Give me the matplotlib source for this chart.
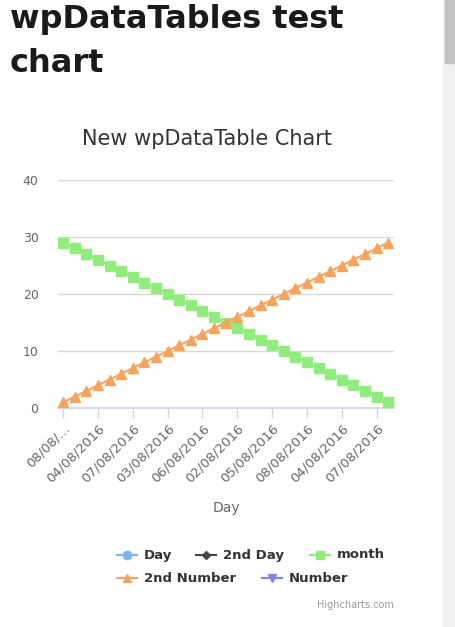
import matplotlib.pyplot as plt
from matplotlib.lines import Line2D
from matplotlib.patches import Rectangle

# Chart data
days = ['08/08/2016', '02/08/2016', '03/08/2016', '04/08/2016', '05/08/2016',
        '06/08/2016', '07/08/2016', '08/08/2016', '02/08/2016', '03/08/2016',
        '04/08/2016', '05/08/2016', '06/08/2016', '07/08/2016', '08/08/2016',
        '02/08/2016', '03/08/2016', '04/08/2016', '05/08/2016', '06/08/2016',
        '07/08/2016', '08/08/2016', '02/08/2016', '03/08/2016', '04/08/2016',
        '05/08/2016', '06/08/2016', '07/08/2016', '08/08/2016']
month = [29, 28, 27, 26, 25, 24, 23, 22, 21, 20, 19, 18, 17, 16, 15,
         14, 13, 12, 11, 10, 9, 8, 7, 6, 5, 4, 3, 2, 1]
second_number = [1, 2, 3, 4, 5, 6, 7, 8, 9, 10, 11, 12, 13, 14, 15,
                 16, 17, 18, 19, 20, 21, 22, 23, 24, 25, 26, 27, 28, 29]
y_ticks = [0, 10, 20, 30, 40]

legend_names = ['Day', '2nd Day', 'month', '2nd Number', 'Number']
legend_colors = ['#7cb5ec', '#434348', '#90ed7d', '#f7a35c', '#8085e9']
legend_markers = ['o', 'D', 's', '^', 'v']

W, H = 455, 627
fig = plt.figure(figsize=(W / 100, H / 100), dpi=100)


def fx(px):
    return px / W


def fy(py):
    return 1 - py / H


# page heading
fig.text(fx(10), fy(28), 'wpDataTables test', fontsize=23, fontweight='bold',
         color='#1a1a1a', va='baseline', ha='left')
fig.text(fx(10), fy(72), 'chart', fontsize=23, fontweight='bold',
         color='#1a1a1a', va='baseline', ha='left')

# scrollbar
fig.patches.append(Rectangle((fx(443), 0), fx(12), 1, transform=fig.transFigure,
                             color='#f0f0f0', zorder=0))
fig.patches.append(Rectangle((fx(445), fy(63)), fx(10), 63 / H,
                             transform=fig.transFigure, color='#c1c1c1', zorder=1))

# chart title
fig.text(fx(207), fy(145), 'New wpDataTable Chart', fontsize=15, color='#333333',
         ha='center', va='baseline')

ax = fig.add_axes([fx(58), fy(408), fx(394) - fx(58), fy(180) - fy(408)])
x = list(range(len(days)))
ax.plot(x, month, color='#90ed7d', lw=1.5, marker='s', ms=6.5, zorder=3)
ax.plot(x, second_number, color='#f7a35c', lw=1.5, marker='^', ms=7, zorder=3)

ax.set_xlim(-0.45, 28.5)
ax.set_ylim(0, 40)
ax.set_yticks(y_ticks)
ax.yaxis.grid(True, color='#d8d8d8', lw=1)
ax.set_axisbelow(True)
ax.tick_params(axis='y', length=0, labelsize=9, labelcolor='#666666', pad=14)
for s in ['top', 'right', 'left']:
    ax.spines[s].set_visible(False)
ax.spines['bottom'].set_color('#ccd6eb')
ax.spines['bottom'].set_linewidth(1.2)

tick_pos = x[::3]
tick_labels = [days[i] for i in tick_pos]
tick_labels[0] = '08/08/…'
ax.set_xticks(tick_pos)
ax.set_xticklabels(tick_labels, rotation=45, ha='right', va='top',
                   rotation_mode='anchor')
ax.tick_params(axis='x', length=7, color='#ccd6eb', width=1, labelsize=9.5,
               labelcolor='#666666', pad=3)
ax.set_xlabel('Day', fontsize=10, color='#666666')
ax.xaxis.set_label_coords(0.5, -0.41)

# legend
rows = [555, 555, 555, 578, 578]
sym_x = [117, 196, 310, 117, 262]
for name, col, mk, ry, sx in zip(legend_names, legend_colors, legend_markers, rows, sym_x):
    fig.add_artist(Line2D([fx(sx), fx(sx + 20)], [fy(ry), fy(ry)],
                          transform=fig.transFigure, color=col, lw=1.5))
    fig.add_artist(Line2D([fx(sx + 10)], [fy(ry)], transform=fig.transFigure,
                          color=col, marker=mk, ms=6 if mk != 'D' else 4.5, lw=0))
    fig.text(fx(sx + 27), fy(ry), name, fontsize=9.5, fontweight='bold',
             color='#333333', va='center', ha='left')

fig.text(fx(394), fy(605), 'Highcharts.com', fontsize=7, color='#999999',
         ha='right', va='center')

fig.savefig('out.png', dpi=100)
